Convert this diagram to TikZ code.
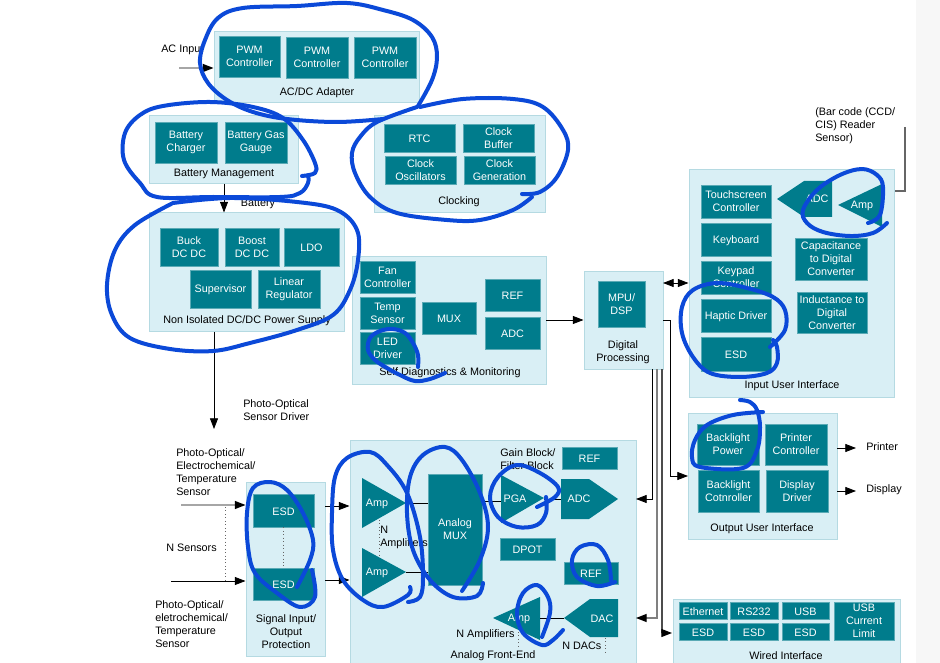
\documentclass[tikz,border=0pt]{standalone}
\usepackage{fontspec}
\setmainfont{Liberation Sans}
\usetikzlibrary{arrows.meta}
\definecolor{panelfill}{HTML}{D9EFF5}
\definecolor{panelline}{HTML}{B5DAE2}
\definecolor{blockfill}{HTML}{007C8C}
\definecolor{blockline}{HTML}{5AAAB5}
\definecolor{penblue}{HTML}{0B49D8}
\tikzset{
panel/.style n args={2}{draw=panelline,fill=panelfill,line width=.75pt,minimum width=#1*.75pt,minimum height=#2*.75pt,inner sep=0pt},
block/.style n args={2}{draw=blockline,fill=blockfill,line width=.5pt,text=white,minimum width=#1*.75pt,minimum height=#2*.75pt,inner sep=0pt,align=center,execute at begin node={\rule{0pt}{7.4pt}}},
wedge/.style={fill=blockfill},
wedgetext/.style={text=white,inner sep=0pt},
lab/.style={inner sep=0pt,align=center,yshift=-.75pt},
leftlab/.style={inner sep=0pt,align=left,anchor=west,yshift=-.5pt},
flow/.style={-{Triangle[length=8pt,width=6pt,color=black]},line width=.6pt},
flowgray/.style={flow,draw=gray!70,line width=1pt},
wire/.style={line width=.6pt},
dots/.style={dotted,line width=.6pt,draw=gray!80!black},
scribble/.style={draw=penblue,line width=3pt,line cap=round,line join=round}
}
\begin{document}
\begin{tikzpicture}[x=.75pt,y=-.75pt,font=\fontsize{8.1}{9.75}\selectfont]
\clip (0,0) rectangle (940,663);
\fill[black!3] (916,0) rectangle (940,663);
\node [panel={205}{71}] (acdc) at (316.5,67.5) {};
\node [panel={149}{68}] (batt) at (223.5,150) {};
\node [panel={195}{119}] (noniso) at (246.5,272.5) {};
\node [panel={171}{97}] (clocking) at (459.5,164.5) {};
\node [panel={194}{127}] (selfdiag) at (449,320.5) {};
\node [panel={79}{97}] (digital) at (623.5,320.5) {};
\node [panel={205}{227}] (inputui) at (791.5,283.5) {};
\node [panel={149}{126}] (outputui) at (762.5,476) {};
\node [panel={227}{81}] (wired) at (786.5,639.5) {};
\node [panel={79}{174}] (signal) at (285.5,569) {};
\node [panel={286}{240}] (frontend) at (493,560) {};
\node [block={61}{41}] (pwma) at (249.5,56.5) {PWM\\Controller};
\node [block={62}{41}] (pwmb) at (317,57.5) {PWM\\Controller};
\node [block={62}{41}] (pwmc) at (385,57.5) {PWM\\Controller};
\node [block={62}{41}] (charger) at (186,142.5) {Battery\\Charger};
\node [block={62}{41}] (gauge) at (256,142.5) {Battery Gas\\Gauge};
\node [block={58}{38}] (buck) at (189,247) {Buck\\DC DC};
\node [block={54}{38}] (boost) at (252,247) {Boost\\DC DC};
\node [block={55}{38}] (ldo) at (311.5,247) {LDO};
\node [block={61}{38}] (supervisor) at (220.5,289) {Supervisor};
\node [block={62}{38}] (linear) at (289,289) {Linear\\Regulator};
\node [block={71}{28}] (rtc) at (419.5,138) {RTC};
\node [block={71}{28}] (clkbuf) at (498.5,138) {Clock\\Buffer};
\node [block={71}{28}] (clkosc) at (420.5,170) {Clock\\Oscillators};
\node [block={71}{28}] (clkgen) at (499.5,170) {Clock\\Generation};
\node [block={55}{32}] (fan) at (387.5,277) {Fan\\Controller};
\node [block={55}{32}] (temp) at (387.5,313) {Temp\\Sensor};
\node [block={55}{32}] (led) at (387.5,348) {LED\\Driver};
\node [block={54}{32}] (diagmux) at (449,318) {MUX};
\node [block={55}{32}] (diagref) at (512.5,295) {REF};
\node [block={55}{32}] (diagadc) at (512.5,333) {ADC};
\node [block={47}{46}] (mpu) at (621.5,304) {MPU/\\DSP};
\node [block={70}{33}] (touch) at (736,201.5) {Touchscreen\\Controller};
\node [block={70}{33}] (keyboard) at (736,239.5) {Keyboard};
\node [block={70}{33}] (keypad) at (736,277.5) {Keypad\\Controller};
\node [block={70}{33}] (haptic) at (736,315.5) {Haptic Driver};
\node [block={70}{34}] (inputesd) at (736,354) {ESD};
\node [block={72}{42}] (capdig) at (831,259) {Capacitance\\to Digital\\Converter};
\node [block={70}{41}] (inddig) at (832,312.5) {Inductance to\\Digital\\Converter};
\node [block={62}{41}] (blpower) at (728,444.5) {Backlight\\Power};
\node [block={62}{41}] (printctl) at (796,444.5) {Printer\\Controller};
\node [block={61}{42}] (blctl) at (728.5,491) {Backlight\\Cotnroller};
\node [block={62}{42}] (display) at (797,491) {Display\\Driver};
\node [block={48}{17}] (ethernet) at (703,610.5) {Ethernet};
\node [block={48}{17}] (rs) at (754,610.5) {RS232};
\node [block={47}{17}] (usb) at (805.5,610.5) {USB};
\node [block={48}{17}] (esda) at (703,631.5) {ESD};
\node [block={48}{17}] (esdb) at (754,631.5) {ESD};
\node [block={47}{17}] (esdc) at (805.5,631.5) {ESD};
\node [block={60}{38}] (usblimit) at (864,621) {USB\\Current\\Limit};
\node [block={61}{33}] (sensesda) at (283.5,510.5) {ESD};
\node [block={61}{32}] (sensesdb) at (283.5,584) {ESD};
\node [block={54}{111}] (amux) at (455,529.5) {Analog\\MUX};
\node [block={55}{22}] (feref) at (589.5,458) {REF};
\node [block={55}{22}] (dpot) at (527.5,549) {DPOT};
\node [block={54}{22}] (ferefb) at (591,573) {REF};
\fill[wedge] (777,199) -- (804,181) -- (832,181) -- (832,217) -- (804,217) -- cycle;
\fill[wedge] (838,205) -- (882,184) -- (882,227) -- cycle;
\fill[wedge] (362,478) -- (406,503) -- (362,528) -- cycle;
\fill[wedge] (362,548) -- (406,572) -- (362,597) -- cycle;
\fill[wedge] (501,475) -- (544,498) -- (501,523) -- cycle;
\fill[wedge] (561,479) -- (589,479) -- (618,499) -- (589,519) -- (561,519) -- cycle;
\fill[wedge] (493,618) -- (540,597) -- (540,640) -- cycle;
\fill[wedge] (564,618) -- (590,599) -- (618,599) -- (618,637) -- (590,637) -- cycle;
\node [wedgetext] (inadc) at (817,198.5) {ADC};
\node [wedgetext] (inamp) at (862,205.5) {Amp};
\node [wedgetext] (ampa) at (377,503.5) {Amp};
\node [wedgetext] (ampb) at (377,572.5) {Amp};
\node [wedgetext] (pga) at (515,498.5) {PGA};
\node [wedgetext] (feadc) at (579,498.5) {ADC};
\node [wedgetext] (ampc) at (519,618.5) {Amp};
\node [wedgetext] (dac) at (602,618.5) {DAC};
\node [lab] (acdclab) at (317,92) {AC/DC Adapter};
\node [lab] (battlab) at (224,173) {Battery Management};
\node [lab] (nonisolab) at (247,320) {Non Isolated DC/DC Power Supply};
\node [lab] (clocklab) at (459,201) {Clocking};
\node [lab] (diaglab) at (450,372) {Self Diagnostics \& Monitoring};
\node [lab] (digilab) at (623,351) {Digital\\Processing};
\node [lab] (inputlab) at (792,385) {Input User Interface};
\node [lab] (outputlab) at (762,528) {Output User Interface};
\node [lab] (wiredlab) at (786,655) {Wired Interface};
\node [lab] (signallab) at (286,631) {Signal Input/\\Output\\Protection};
\node [lab] (felab) at (493,655) {Analog Front-End};
\node [lab] (batterylab) at (258,203) {Battery};
\node [leftlab] (aclab) at (161,49) {AC Input};
\node [leftlab] (barlab) at (815,125) {(Bar code (CCD/\\CIS) Reader\\Sensor)};
\node [leftlab] (driverlab) at (243,409.5) {Photo-Optical\\Sensor Driver};
\node [leftlab] (senselab) at (176,471.5) {Photo-Optical/\\Electrochemical/\\Temperature\\Sensor};
\node [leftlab] (nsenslab) at (166,547) {N Sensors};
\node [leftlab] (senseblab) at (155,623.5) {Photo-Optical/\\eletrochemical/\\Temperature\\Sensor};
\node [leftlab] (namplab) at (380,536.5) {N\\Amplifiers};
\node [leftlab] (gainlab) at (500,458.5) {Gain Block/\\Filter Block};
\node [leftlab] (namplabb) at (456,634) {N Amplifiers};
\node [leftlab] (ndaclab) at (562,645) {N DACs};
\node [leftlab] (printlab) at (866,446) {Printer};
\node [leftlab] (displab) at (866,489) {Display};
\coordinate (acin) at (179,68);
\coordinate (batin) at (224,184);
\coordinate (drvout) at (214,429);
\coordinate (senseina) at (181,505);
\coordinate (senseinb) at (171,581);
\coordinate (senseoa) at (325,506);
\coordinate (senseob) at (325,580);
\coordinate (dota) at (225,507);
\coordinate (dotb) at (225,581);
\coordinate (tipa) at (406,503);
\coordinate (tipb) at (406,572);
\coordinate (pgain) at (501,501);
\coordinate (pgaout) at (544,499);
\coordinate (adcin) at (561,499);
\coordinate (ampcin) at (540,618);
\coordinate (dactip) at (564,618);
\coordinate (dotc) at (379,520);
\coordinate (dotd) at (379,555);
\coordinate (dote) at (518,632);
\coordinate (dotf) at (518,646);
\coordinate (dotg) at (605,638);
\coordinate (doth) at (605,653);
\coordinate (bara) at (905,127);
\coordinate (barb) at (905,191);
\coordinate (diaout) at (546,320);
\coordinate (bidir) at (663,283);
\coordinate (busa) at (652,369);
\coordinate (busb) at (657,369);
\coordinate (busc) at (662,369);
\coordinate (busd) at (663,320);
\coordinate (busdd) at (670,320);
\coordinate (rowa) at (636,499);
\coordinate (rowb) at (636,618);
\coordinate (rowc) at (672,633);
\coordinate (rowd) at (688,476);
\coordinate (prnout) at (837,448);
\coordinate (prnend) at (856,448);
\coordinate (dspout) at (837,491);
\coordinate (dspend) at (856,491);
\draw[flowgray] (acin) -- (acin -| acdc.west);
\draw[flow] (batin) -- (batin |- noniso.north);
\draw[flow] (drvout |- noniso.south) -- (drvout);
\draw[flowgray] (senseina) -- (senseina -| signal.west);
\draw[flow] (senseinb) -- (senseinb -| signal.west);
\draw[flow] (senseoa) -- (senseoa -| frontend.west);
\draw[flow] (senseob) -- (senseob -| frontend.west);
\draw[dots] (dota) -- (dotb);
\draw[dots] (sensesda) -- (sensesdb);
\draw[dots] (dotc) -- (dotd);
\draw[dots] (dote) -- (dotf);
\draw[dots] (dotg) -- (doth);
\draw[wire] (tipa) -- (tipa -| amux.west);
\draw[wire] (tipb) -- (tipb -| amux.west);
\draw[wire] (pgain -| amux.east) -- (pgain);
\draw[wire] (pgaout) -- (adcin);
\draw[wire] (ampcin) -- (dactip);
\draw[wire,draw=gray!80!black,line width=.8pt] (bara) -- (barb) -- (barb -| inputui.east);
\draw[flow] (diaout) -- (diaout -| digital.west);
\draw[{Triangle[length=8pt,width=6pt]}-{Triangle[length=8pt,width=6pt]},line width=.6pt] (bidir) -- (bidir -| inputui.west);
\draw[flow] (busa) -- (busa |- rowa) -- (rowa);
\draw[flow,draw=gray,line width=1pt] (busb) -- (busb |- rowb) -- (rowb);
\draw[flow,draw=gray!60!black,line width=.8pt] (busc) -- (busc |- rowc) -- (rowc);
\draw[flow] (busd) -- (busdd) -- (busdd |- rowd) -- (rowd);
\draw[flow] (prnout) -- (prnend);
\draw[flow] (dspout) -- (dspend);
\draw[scribble] plot[smooth,tension=.6] coordinates {(418,106) (432,80) (437,57) (432,37) (413,20) (383,10) (347,3) (297,6) (243,8) (218,18) (205,40) (200,63) (208,83) (227,100) (253,112) (287,119) (337,122) (383,119)};
\draw[scribble] plot[smooth,tension=.6] coordinates {(302,176) (315,173) (315,163) (303,140) (283,118) (253,107) (210,102) (163,106) (140,115) (125,133) (124,160) (140,183) (157,197) (213,197) (280,197) (300,193) (308,183) (308,175)};
\draw[scribble] plot[smooth,tension=.6] coordinates {(173,203) (230,198) (297,202) (337,210) (357,230) (358,260) (350,290) (333,315) (297,330) (250,343) (213,351) (170,349) (130,338) (112,315) (107,285) (115,250) (135,225) (173,203)};
\draw[scribble] plot[smooth,tension=.6] coordinates {(420,107) (463,99) (513,99) (543,107) (563,130) (568,150) (557,177) (540,192) (522,194)};
\draw[scribble] plot[smooth,tension=.6] coordinates {(532,197) (513,210) (480,220) (447,220) (397,213) (370,197) (355,173) (352,153) (360,137) (377,122) (417,107)};
\draw[scribble] plot[smooth,tension=.6] coordinates {(418,367) (418,355) (413,343) (405,333) (393,329) (380,331) (370,338) (368,350) (375,360) (387,368) (400,375) (415,381) (430,379) (445,373)};
\draw[scribble] plot[smooth,tension=.6] coordinates {(868,223) (880,215) (883,187) (877,175) (862,169) (840,175) (817,190) (803,210) (807,223) (823,232) (850,236) (873,233) (887,223)};
\draw[scribble] plot[smooth,tension=.6] coordinates {(770,347) (785,330) (785,310) (773,297) (747,288) (717,283) (693,290) (682,307) (682,333) (693,357) (710,373) (740,377) (767,373) (777,363) (777,347) (773,340)};
\draw[scribble] plot[smooth,tension=.6] coordinates {(763,412) (733,415) (707,425) (695,440) (692,457) (700,467) (743,468) (757,450) (760,427) (757,410) (750,402) (740,400)};
\draw[scribble] plot[smooth,tension=.6] coordinates {(297,587) (310,560) (313,540) (303,513) (287,490) (270,482) (253,488) (247,513) (248,547) (255,573) (277,593) (300,607) (315,597) (312,570)};
\draw[scribble] plot[smooth,tension=.6] coordinates {(410,587) (408,595) (383,607) (363,600) (343,580) (333,550) (332,513) (335,477) (347,458) (370,452) (387,465) (407,493) (420,537) (423,577) (420,597) (408,602)};
\draw[scribble] plot[smooth,tension=.6] coordinates {(462,591) (480,560) (488,527) (480,493) (462,460) (445,447) (423,455) (410,477) (407,513) (413,550) (430,580) (453,597) (477,596) (483,583)};
\draw[scribble] plot[smooth,tension=.6] coordinates {(537,507) (555,497) (558,487) (540,473) (517,465) (498,477) (490,497) (498,517) (517,527) (537,525) (546,513) (546,497)};
\draw[scribble] plot[smooth,tension=.6] coordinates {(615,582) (597,586) (577,577) (572,560) (580,547) (597,545) (608,560) (611,580)};
\draw[scribble] plot[smooth,tension=.6] coordinates {(542,637) (550,613) (548,597) (537,585) (523,593) (517,613) (523,633) (542,645) (553,640) (563,630)};
\end{tikzpicture}
\end{document}
